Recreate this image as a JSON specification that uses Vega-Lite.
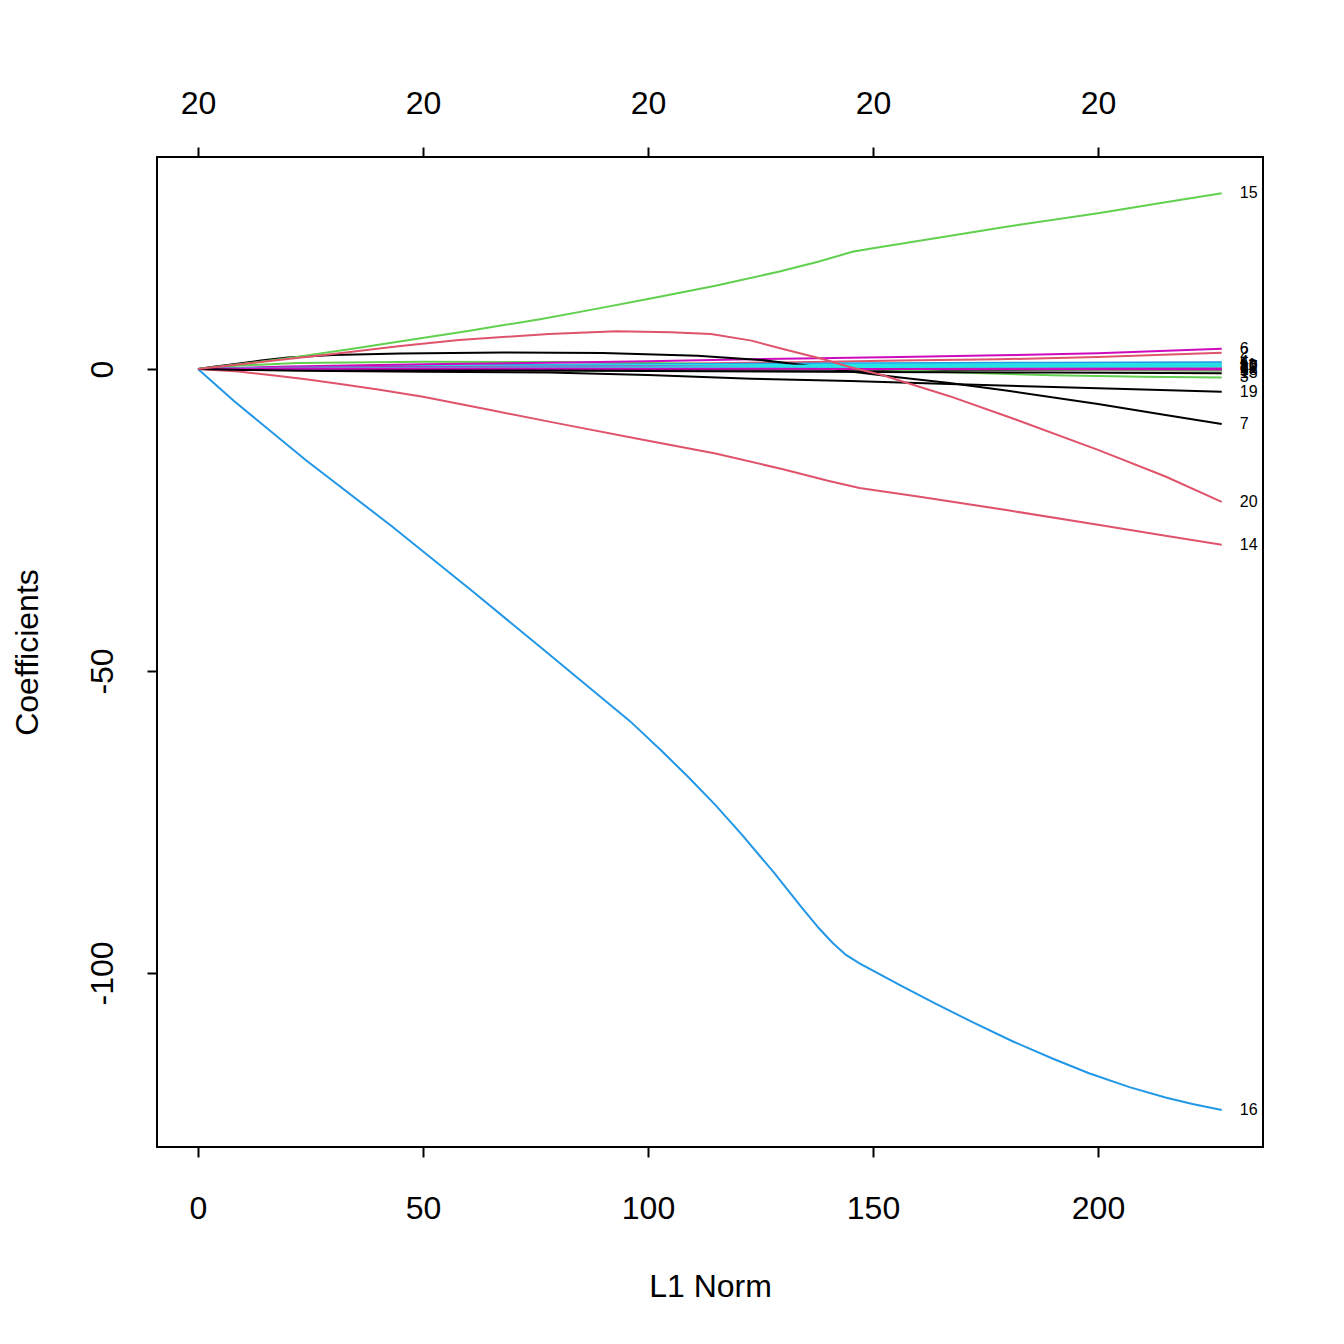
{
  "$schema": "https://vega.github.io/schema/vega-lite/v6.json",
  "width": 1106,
  "height": 990,
  "autosize": {"type": "none"},
  "padding": {"left": 157, "top": 157, "right": 81, "bottom": 197},
  "background": "white",
  "config": {
    "view": {"stroke": "black", "strokeWidth": 2},
    "axis": {
      "domain": false, "grid": false, "tickColor": "black", "tickWidth": 2, "tickSize": 10,
      "labelFont": "Liberation Sans", "labelFontSize": 32, "labelColor": "black",
      "titleFont": "Liberation Sans", "titleFontSize": 32, "titleFontWeight": "normal", "titleColor": "black",
      "labelFlush": false, "labelOverlap": false
    }
  },
  "datasets": {
    "coef": [
      {"v":"1","x":0,"y":0},{"v":"1","x":20,"y":-0.02},{"v":"1","x":50,"y":-0.05},{"v":"1","x":100,"y":-0.1},{"v":"1","x":150,"y":-0.12},{"v":"1","x":190,"y":-0.17},{"v":"1","x":227.5,"y":-0.2},
      {"v":"2","x":0,"y":0},{"v":"2","x":20,"y":0.2},{"v":"2","x":50,"y":0.45},{"v":"2","x":100,"y":0.8},{"v":"2","x":140,"y":1.2},{"v":"2","x":156,"y":1.4},{"v":"2","x":178,"y":1.6},{"v":"2","x":200,"y":2.0},{"v":"2","x":227.5,"y":2.7},
      {"v":"3","x":0,"y":0},{"v":"3","x":10,"y":0.6},{"v":"3","x":22,"y":1.0},{"v":"3","x":50,"y":1.2},{"v":"3","x":80,"y":1.15},{"v":"3","x":110,"y":0.9},{"v":"3","x":130,"y":0.6},{"v":"3","x":150,"y":0.1},{"v":"3","x":167,"y":-0.55},{"v":"3","x":190,"y":-1.05},{"v":"3","x":210,"y":-1.3},{"v":"3","x":227.5,"y":-1.4},
      {"v":"4","x":0,"y":0},{"v":"4","x":20,"y":0.3},{"v":"4","x":50,"y":0.55},{"v":"4","x":100,"y":0.8},{"v":"4","x":150,"y":0.95},{"v":"4","x":190,"y":1.05},{"v":"4","x":227.5,"y":1.1},
      {"v":"5","x":0,"y":0},{"v":"5","x":20,"y":0.25},{"v":"5","x":50,"y":0.45},{"v":"5","x":100,"y":0.65},{"v":"5","x":150,"y":0.75},{"v":"5","x":190,"y":0.8},{"v":"5","x":227.5,"y":0.85},
      {"v":"6","x":0,"y":0},{"v":"6","x":20,"y":0.4},{"v":"6","x":50,"y":0.8},{"v":"6","x":78,"y":1.05},{"v":"6","x":100,"y":1.3},{"v":"6","x":134,"y":1.75},{"v":"6","x":156,"y":2.0},{"v":"6","x":178,"y":2.26},{"v":"6","x":200,"y":2.6},{"v":"6","x":227.5,"y":3.36},
      {"v":"7","x":0,"y":0},{"v":"7","x":3,"y":0.35},{"v":"7","x":7,"y":0.7},{"v":"7","x":14,"y":1.4},{"v":"7","x":20,"y":1.9},{"v":"7","x":30,"y":2.3},{"v":"7","x":45,"y":2.55},{"v":"7","x":68,"y":2.75},{"v":"7","x":90,"y":2.65},{"v":"7","x":111,"y":2.2},{"v":"7","x":125,"y":1.5},{"v":"7","x":134,"y":0.7},{"v":"7","x":145,"y":-0.4},{"v":"7","x":156,"y":-1.4},{"v":"7","x":167,"y":-2.3},{"v":"7","x":180,"y":-3.6},{"v":"7","x":200,"y":-5.8},{"v":"7","x":215,"y":-7.6},{"v":"7","x":227.5,"y":-9.1},
      {"v":"8","x":0,"y":0},{"v":"8","x":20,"y":0.1},{"v":"8","x":50,"y":0.2},{"v":"8","x":100,"y":0.25},{"v":"8","x":150,"y":0.28},{"v":"8","x":227.5,"y":0.3},
      {"v":"9","x":0,"y":0},{"v":"9","x":20,"y":0.15},{"v":"9","x":50,"y":0.25},{"v":"9","x":100,"y":0.2},{"v":"9","x":150,"y":0.0},{"v":"9","x":190,"y":-0.12},{"v":"9","x":227.5,"y":-0.25},
      {"v":"10","x":0,"y":0},{"v":"10","x":20,"y":0.15},{"v":"10","x":50,"y":0.3},{"v":"10","x":100,"y":0.45},{"v":"10","x":150,"y":0.5},{"v":"10","x":227.5,"y":0.55},
      {"v":"11","x":0,"y":0},{"v":"11","x":20,"y":0.2},{"v":"11","x":50,"y":0.35},{"v":"11","x":100,"y":0.5},{"v":"11","x":150,"y":0.6},{"v":"11","x":227.5,"y":0.7},
      {"v":"12","x":0,"y":0},{"v":"12","x":20,"y":0.2},{"v":"12","x":50,"y":0.35},{"v":"12","x":100,"y":0.4},{"v":"12","x":150,"y":0.3},{"v":"12","x":190,"y":0.2},{"v":"12","x":227.5,"y":0.1},
      {"v":"13","x":0,"y":0},{"v":"13","x":20,"y":-0.1},{"v":"13","x":50,"y":-0.2},{"v":"13","x":100,"y":-0.35},{"v":"13","x":150,"y":-0.5},{"v":"13","x":190,"y":-0.6},{"v":"13","x":227.5,"y":-0.7},
      {"v":"14","x":0,"y":0},{"v":"14","x":9,"y":-0.4},{"v":"14","x":16,"y":-1.0},{"v":"14","x":24,"y":-1.7},{"v":"14","x":31.6,"y":-2.5},{"v":"14","x":40,"y":-3.4},{"v":"14","x":50,"y":-4.6},{"v":"14","x":65,"y":-6.8},{"v":"14","x":80,"y":-9.0},{"v":"14","x":98,"y":-11.6},{"v":"14","x":115,"y":-14.0},{"v":"14","x":130,"y":-16.6},{"v":"14","x":140,"y":-18.5},{"v":"14","x":147,"y":-19.7},{"v":"14","x":160,"y":-21.1},{"v":"14","x":180,"y":-23.4},{"v":"14","x":200,"y":-25.8},{"v":"14","x":215,"y":-27.6},{"v":"14","x":227.5,"y":-29.1},
      {"v":"15","x":0,"y":0},{"v":"15","x":10,"y":0.85},{"v":"15","x":20,"y":1.8},{"v":"15","x":34,"y":3.3},{"v":"15","x":43,"y":4.35},{"v":"15","x":60,"y":6.3},{"v":"15","x":76,"y":8.25},{"v":"15","x":87,"y":9.75},{"v":"15","x":100,"y":11.6},{"v":"15","x":115,"y":13.8},{"v":"15","x":129,"y":16.1},{"v":"15","x":138,"y":17.8},{"v":"15","x":145.4,"y":19.4},{"v":"15","x":150,"y":20.0},{"v":"15","x":160,"y":21.2},{"v":"15","x":180,"y":23.6},{"v":"15","x":200,"y":25.8},{"v":"15","x":215,"y":27.6},{"v":"15","x":227.5,"y":29.1},
      {"v":"16","x":0,"y":0},{"v":"16","x":8,"y":-5.3},{"v":"16","x":24,"y":-15.1},{"v":"16","x":43,"y":-26.0},{"v":"16","x":61,"y":-36.8},{"v":"16","x":76,"y":-46.0},{"v":"16","x":96,"y":-58.3},{"v":"16","x":103,"y":-63.2},{"v":"16","x":109,"y":-67.6},{"v":"16","x":115,"y":-72.2},{"v":"16","x":121,"y":-77.2},{"v":"16","x":128,"y":-83.4},{"v":"16","x":134,"y":-89.0},{"v":"16","x":138,"y":-92.6},{"v":"16","x":141,"y":-95.0},{"v":"16","x":144,"y":-97.0},{"v":"16","x":147,"y":-98.4},{"v":"16","x":156,"y":-102.0},{"v":"16","x":164,"y":-105.1},{"v":"16","x":172,"y":-108.1},{"v":"16","x":181,"y":-111.3},{"v":"16","x":190,"y":-114.2},{"v":"16","x":198,"y":-116.6},{"v":"16","x":207,"y":-118.9},{"v":"16","x":215,"y":-120.6},{"v":"16","x":221,"y":-121.7},{"v":"16","x":227.5,"y":-122.7},
      {"v":"17","x":0,"y":0},{"v":"17","x":20,"y":0.1},{"v":"17","x":50,"y":0.2},{"v":"17","x":100,"y":0.3},{"v":"17","x":150,"y":0.35},{"v":"17","x":227.5,"y":0.4},
      {"v":"18","x":0,"y":0},{"v":"18","x":20,"y":0.05},{"v":"18","x":50,"y":0.08},{"v":"18","x":100,"y":0.05},{"v":"18","x":150,"y":0.0},{"v":"18","x":227.5,"y":-0.1},
      {"v":"19","x":0,"y":0},{"v":"19","x":10,"y":-0.15},{"v":"19","x":22.7,"y":-0.3},{"v":"19","x":50,"y":-0.45},{"v":"19","x":78,"y":-0.6},{"v":"19","x":100,"y":-1.0},{"v":"19","x":123,"y":-1.6},{"v":"19","x":145,"y":-2.0},{"v":"19","x":156,"y":-2.25},{"v":"19","x":167,"y":-2.5},{"v":"19","x":190,"y":-3.0},{"v":"19","x":210,"y":-3.4},{"v":"19","x":227.5,"y":-3.75},
      {"v":"20","x":0,"y":0},{"v":"20","x":12,"y":1.0},{"v":"20","x":30,"y":2.5},{"v":"20","x":45,"y":3.8},{"v":"20","x":58,"y":4.8},{"v":"20","x":78,"y":5.8},{"v":"20","x":93,"y":6.25},{"v":"20","x":105,"y":6.1},{"v":"20","x":114,"y":5.8},{"v":"20","x":123,"y":4.7},{"v":"20","x":130,"y":3.3},{"v":"20","x":139,"y":1.6},{"v":"20","x":145,"y":0.3},{"v":"20","x":152,"y":-1.0},{"v":"20","x":167,"y":-4.5},{"v":"20","x":180,"y":-7.9},{"v":"20","x":200,"y":-13.4},{"v":"20","x":215,"y":-17.8},{"v":"20","x":227.5,"y":-22.0}
    ]
  },
  "data": {"name": "coef"},
  "layer": [
    {
      "mark": {"type": "line", "strokeWidth": 2, "clip": true},
      "encoding": {
        "x": {
          "field": "x", "type": "quantitative",
          "scale": {"domain": [-9.11, 236.67], "nice": false, "zero": false},
          "axis": {
            "orient": "bottom", "values": [0, 50, 100, 150, 200], "title": "L1 Norm",
            "labelBaseline": "alphabetic", "labelPadding": 61,
            "titleBaseline": "alphabetic", "titleX": 553, "titleY": 149, "titleAnchor": null
          }
        },
        "y": {
          "field": "y", "type": "quantitative",
          "scale": {"domain": [-128.81, 35.10], "nice": false, "zero": false},
          "axis": {
            "values": [-100, -50, 0], "title": "Coefficients", "labelExpr": "toString(datum.value)",
            "labelAngle": -90, "labelAlign": "center", "labelBaseline": "alphabetic", "labelPadding": 35,
            "titleAngle": -90, "titleAlign": "center", "titleBaseline": "alphabetic", "titleX": -120, "titleY": 495
          }
        },
        "color": {
          "field": "v", "type": "nominal", "legend": null,
          "scale": {
            "domain": ["1","2","3","4","5","6","7","8","9","10","11","12","13","14","15","16","17","18","19","20"],
            "range": ["#000000","#DF536B","#61D04F","#2297E6","#28E2E5","#CD0BBC","#000000","#DF536B","#61D04F","#2297E6","#28E2E5","#CD0BBC","#000000","#DF536B","#61D04F","#2297E6","#28E2E5","#CD0BBC","#000000","#DF536B"]
          }
        }
      }
    },
    {
      "transform": [{"filter": "datum.x == 227.5"}],
      "mark": {"type": "text", "align": "left", "baseline": "middle", "dx": 18, "font": "Liberation Sans", "fontSize": 16, "color": "black"},
      "encoding": {
        "x": {
          "field": "x", "type": "quantitative",
          "axis": {
            "orient": "top", "values": [0, 50, 100, 150, 200], "labelExpr": "'20'", "title": null,
            "labelBaseline": "alphabetic", "labelPadding": 34
          }
        },
        "y": {"field": "y", "type": "quantitative"},
        "text": {"field": "v"}
      }
    }
  ]
}
